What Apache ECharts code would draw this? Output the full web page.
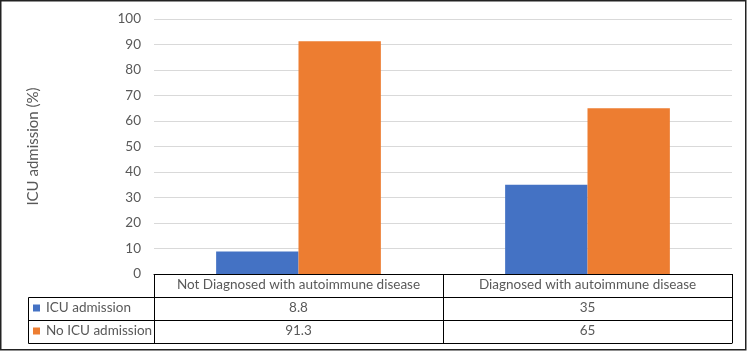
<!DOCTYPE html>
<html>
<head>
<meta charset="utf-8">
<script src="https://cdn.jsdelivr.net/npm/echarts@6/dist/echarts.min.js"></script>
<style>
  html, body { margin: 0; padding: 0; background: #fff; }
  #chart { width: 750px; height: 353px; }
</style>
</head>
<body>
<div id="chart"></div>
<script>
// data
var categories = ['Not Diagnosed with autoimmune disease', 'Diagnosed with autoimmune disease'];
var seriesNames = ['ICU admission', 'No ICU admission'];
var icuValues = [8.8, 35];
var noIcuValues = [91.3, 65];
var yTicks = { min: 0, max: 100, interval: 10 };

var FONT = 'Lato';
var GREY = '#595959';
var colors = ['#4472C4', '#ED7D31'];

var myChart = echarts.init(document.getElementById('chart'));

// extra x axes are used as the data table rows under the plot
function tableRow(values, offset, showLabels) {
    return {
        type: 'category',
        position: 'bottom',
        offset: offset,
        data: values.map(function (v) { return String(v); }),
        axisLine: { show: true, lineStyle: { color: '#000', width: 1 } },
        axisTick: { show: false },
        axisLabel: {
            show: showLabels,
            interval: 0,
            margin: 4,
            color: GREY,
            fontFamily: FONT,
            fontSize: 13.5
        },
        splitLine: { show: false }
    };
}

myChart.setOption({
    animation: false,
    color: colors,
    textStyle: { fontFamily: FONT },
    grid: { left: 154, right: 18, top: 19, bottom: 79 },
    legend: {
        orient: 'vertical',
        left: 33,
        top: 300,
        padding: 0,
        itemGap: 7,
        itemWidth: 7,
        itemHeight: 7,
        icon: 'rect',
        selectedMode: false,
        textStyle: { color: GREY, fontSize: 13.5, fontFamily: FONT, lineHeight: 16, padding: [0, 0, 0, 1] },
        data: seriesNames
    },
    xAxis: [
        {
            type: 'category',
            data: categories,
            axisLine: { show: true, lineStyle: { color: '#000', width: 1 } },
            axisTick: { show: true, interval: 0, length: 69, lineStyle: { color: '#000', width: 1 } },
            axisLabel: { interval: 0, margin: 4, color: GREY, fontFamily: FONT, fontSize: 13.5 }
        },
        tableRow(icuValues, 23, true),
        tableRow(noIcuValues, 46, true),
        tableRow(icuValues, 69, false)
    ],
    yAxis: {
        type: 'value',
        min: yTicks.min,
        max: yTicks.max,
        interval: yTicks.interval,
        name: 'ICU admission (%)',
        nameLocation: 'middle',
        nameRotate: 90,
        nameGap: 113,
        nameTextStyle: { color: GREY, fontFamily: FONT, fontSize: 15 },
        axisLine: { show: false },
        axisTick: { show: false },
        axisLabel: { margin: 13, color: GREY, fontFamily: FONT, fontSize: 13.5 },
        splitLine: { lineStyle: { color: '#d9d9d9', width: 1 } }
    },
    series: [
        {
            name: seriesNames[0],
            type: 'bar',
            data: icuValues,
            barGap: '0%',
            barCategoryGap: '43%'
        },
        {
            name: seriesNames[1],
            type: 'bar',
            data: noIcuValues,
            barGap: '0%',
            barCategoryGap: '43%'
        }
    ],
    graphic: [
        // left column of the data table (legend cells)
        { type: 'rect', shape: { x: 28.5, y: 297.5, width: 126, height: 46 },
          style: { fill: null, stroke: '#000', lineWidth: 1 }, silent: true },
        { type: 'line', shape: { x1: 28.5, y1: 320.5, x2: 154, y2: 320.5 },
          style: { stroke: '#000', lineWidth: 1 }, silent: true },
        // outer frame
        { type: 'rect', shape: { x: 0.75, y: 0.75, width: 745, height: 349 },
          style: { fill: null, stroke: '#222', lineWidth: 1.5 }, silent: true }
    ]
});
</script>
</body>
</html>
